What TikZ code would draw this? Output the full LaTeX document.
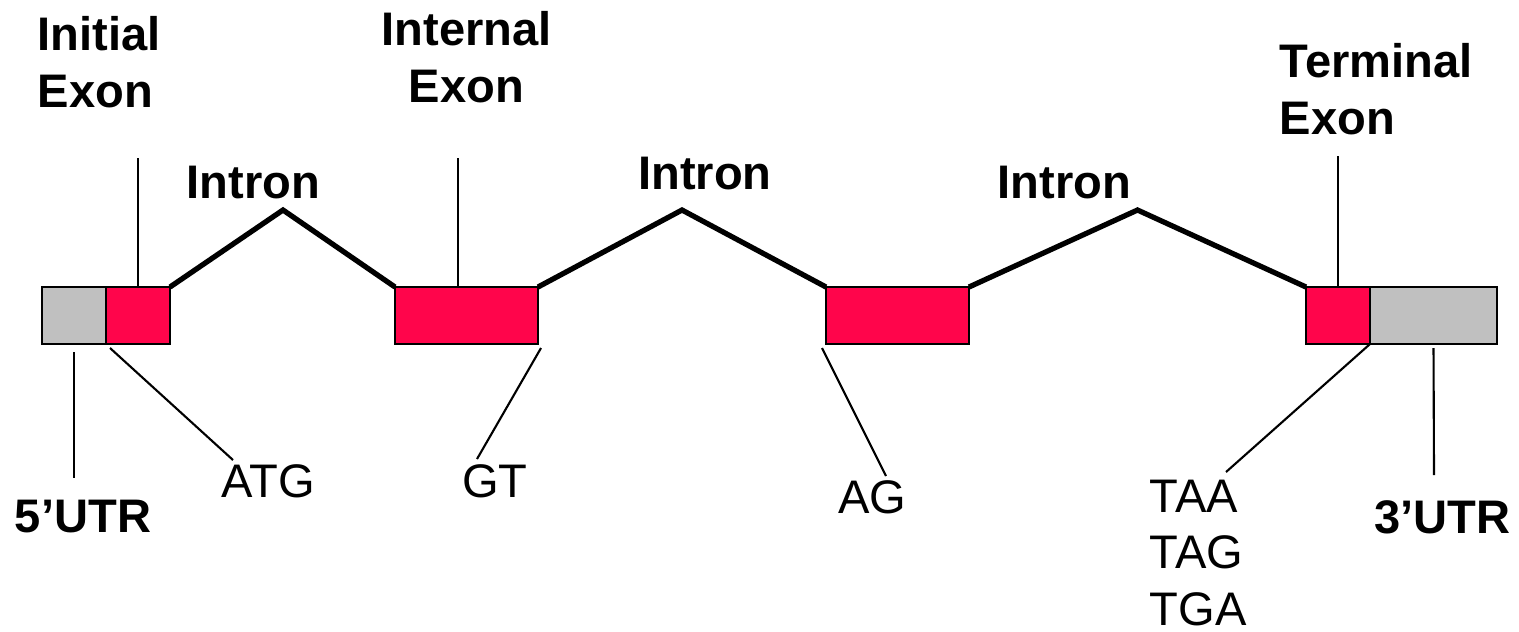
\documentclass[tikz,border=0pt]{standalone}
\usepackage{fontspec}
\setmainfont{Liberation Sans}
\usepackage{xcolor}
\usepackage{tikz}
\definecolor{exonred}{RGB}{255,5,75}
\definecolor{utrgray}{RGB}{192,192,192}
\tikzset{
  exon/.style={draw, line width=0.7pt, fill=exonred, minimum height=0.57cm, inner sep=0pt, outer sep=0pt},
  utr/.style={exon, fill=utrgray},
  intron/.style={line width=1.5pt},
  leader/.style={line width=0.6pt},
  head/.style={font=\fontsize{13.4}{16.1}\selectfont\bfseries, inner sep=0pt},
  seq/.style={font=\fontsize{13.4}{16.1}\selectfont, inner sep=0pt}
}

\begin{document}
\begin{tikzpicture}
\useasboundingbox (0,0) rectangle (15.19,-6.31);
% gene model
\node[utr, minimum width=0.64cm] (utrA) at (0.74,-3.155) {};
\node[exon, minimum width=0.64cm] (exA) at (1.38,-3.155) {};
\node[exon, minimum width=1.43cm] (exB) at (4.665,-3.155) {};
\node[exon, minimum width=1.43cm] (exC) at (8.975,-3.155) {};
\node[exon, minimum width=0.64cm] (exD) at (13.38,-3.155) {};
\node[utr, minimum width=1.27cm] (utrB) at (14.335,-3.155) {};
\coordinate (peakA) at (2.83,-2.10);
\coordinate (peakB) at (6.82,-2.10);
\coordinate (peakC) at (11.375,-2.10);
\draw[intron] (exA.north east) -- (peakA) -- (exB.north west);
\draw[intron] (exB.north east) -- (peakB) -- (exC.north west);
\draw[intron] (exC.north east) -- (peakC) -- (exD.north west);
% labels above
\node[head, align=left, anchor=north west] (initial) at (0.37,-0.16) {Initial\\Exon};
\node[head, align=center, anchor=north] (internal) at (4.665,-0.11) {Internal\\Exon};
\node[head, align=left, anchor=north west] (terminal) at (12.79,-0.43) {Terminal\\Exon};
\node[head, anchor=base] (intronA) at (2.535,-1.98) {Intron};
\node[head, anchor=base] (intronB) at (7.05,-1.89) {Intron};
\node[head, anchor=base] (intronC) at (10.645,-1.98) {Intron};
\coordinate (initialTip) at (1.38,-1.58);
\coordinate (internalTip) at (4.58,-1.58);
\coordinate (terminalTip) at (13.38,-1.56);
\draw[leader] (initialTip) -- (exA.north);
\draw[leader] (internalTip) -- (internalTip |- exB.north);
\draw[leader] (terminalTip) -- (exD.north);
% labels below
\node[head, anchor=base] (utrAlabel) at (0.83,-5.32) {5’UTR};
\node[head, anchor=base] (utrBlabel) at (14.425,-5.33) {3’UTR};
\node[seq, anchor=base] (atg) at (2.68,-4.97) {ATG};
\node[seq, anchor=base] (gt) at (4.95,-4.97) {GT};
\node[seq, anchor=base] (ag) at (8.725,-5.13) {AG};
\node[seq, align=left, anchor=north west] (stop) at (11.49,-4.79) {TAA\\TAG\\TGA};
\coordinate (utrATip) at (0.74,-4.78);
\coordinate (atgTip) at (2.33,-4.60);
\coordinate (gtTip) at (4.77,-4.59);
\coordinate (agTip) at (8.86,-4.76);
\coordinate (stopTip) at (12.26,-4.72);
\coordinate (utrBTip) at (14.34,-4.75);
\draw[leader] ([yshift=-0.08cm]utrA.south) -- (utrATip);
\draw[leader] ([shift={(0.04,-0.04)}]exA.south west) -- (atgTip);
\draw[leader] ([shift={(0.03,-0.04)}]exB.south east) -- (gtTip);
\draw[leader] ([shift={(-0.04,-0.04)}]exC.south west) -- (agTip);
\draw[leader] (exD.south east) -- (stopTip);
\draw[leader] ([yshift=-0.04cm]utrB.south) -- (utrBTip);
\end{tikzpicture}
\end{document}
